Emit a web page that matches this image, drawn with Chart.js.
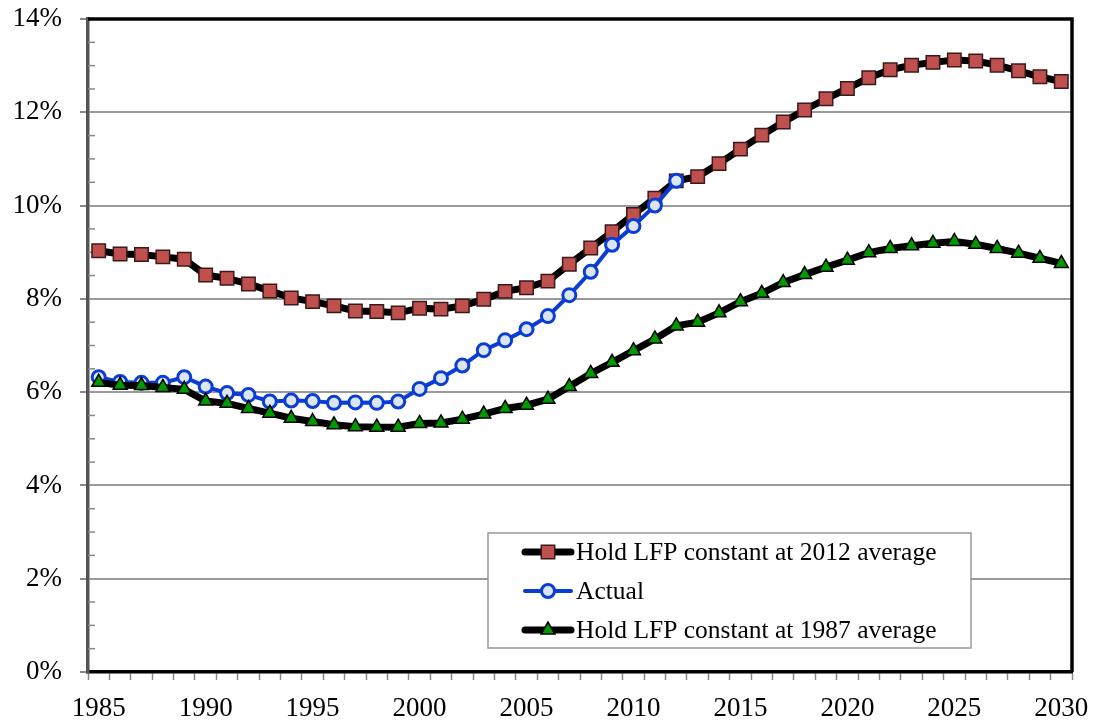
<!DOCTYPE html>
<html lang="en">
  <head>
    <meta charset="UTF-8" />
    <title>LFP scenarios</title>
    <script src="https://cdn.jsdelivr.net/npm/chart.js"></script>
    <style>
      body {
        margin: 0;
        background: #fff;
      }
      #chart-container {
        width: 1097px;
        height: 725px;
      }
    </style>
  </head>
  <body>
    <div id="chart-container">
      <canvas id="my-chart"></canvas>
    </div>

    <script>
      const years = [
        1985, 1986, 1987, 1988, 1989, 1990, 1991, 1992, 1993, 1994, 1995, 1996,
        1997, 1998, 1999, 2000, 2001, 2002, 2003, 2004, 2005, 2006, 2007, 2008,
        2009, 2010, 2011, 2012, 2013, 2014, 2015, 2016, 2017, 2018, 2019, 2020,
        2021, 2022, 2023, 2024, 2025, 2026, 2027, 2028, 2029, 2030,
      ];

      // Hold LFP constant at 2012 average
      const hold2012 = [
        9.03, 8.96, 8.95, 8.9, 8.85, 8.51, 8.44, 8.32, 8.17, 8.02, 7.94, 7.85,
        7.74, 7.73, 7.7, 7.8, 7.78, 7.85, 7.99, 8.16, 8.24, 8.38, 8.74, 9.09,
        9.44, 9.81, 10.16, 10.53, 10.62, 10.9, 11.21, 11.51, 11.79, 12.05,
        12.29, 12.51, 12.74, 12.91, 13.01, 13.07, 13.12, 13.1, 13.01, 12.89,
        12.76, 12.66,
      ];

      // Actual (ends in 2012)
      const actual = [
        6.32, 6.22, 6.2, 6.2, 6.32, 6.12, 5.98, 5.94, 5.8, 5.82, 5.81, 5.77,
        5.78, 5.77, 5.8, 6.07, 6.3, 6.57, 6.9, 7.11, 7.35, 7.63, 8.08, 8.58,
        9.16, 9.56, 10.0, 10.53,
      ];

      // Hold LFP constant at 1987 average
      const hold1987 = [
        6.21, 6.15, 6.14, 6.1, 6.06, 5.81, 5.76, 5.65, 5.55, 5.44, 5.37, 5.3,
        5.26, 5.25, 5.25, 5.33, 5.34, 5.42, 5.53, 5.65, 5.72, 5.85, 6.12, 6.4,
        6.64, 6.89, 7.14, 7.42, 7.5, 7.7, 7.94, 8.12, 8.35, 8.52, 8.68, 8.83,
        8.99, 9.08, 9.14, 9.19, 9.23, 9.17, 9.08, 8.98, 8.87, 8.76,
      ];

      const seriesNames = [
        "Hold LFP constant at 2012 average",
        "Actual",
        "Hold LFP constant at 1987 average",
      ];

      const yMin = 0;
      const yMax = 14;
      const yStep = 2;
      const yMinorStep = 0.5;

      const FONT = '"Liberation Serif", "Times New Roman", serif';

      // plot box: black top/right edges + small inside minor ticks on y
      const frame = {
        id: "frame",
        beforeDatasetsDraw(chart) {
          const { ctx, chartArea } = chart;
          const y = chart.scales.y;
          ctx.save();
          ctx.strokeStyle = "#888";
          ctx.lineWidth = 1.5;
          for (let v = yMin; v <= yMax; v += yMinorStep) {
            if (v % yStep === 0) continue;
            const py = y.getPixelForValue(v);
            ctx.beginPath();
            ctx.moveTo(chartArea.left, py);
            ctx.lineTo(chartArea.left + 7, py);
            ctx.stroke();
          }
          ctx.strokeStyle = "#000";
          ctx.lineWidth = 3.5;
          ctx.beginPath();
          ctx.moveTo(chartArea.left, chartArea.top);
          ctx.lineTo(chartArea.right, chartArea.top);
          ctx.lineTo(chartArea.right, chartArea.bottom);
          ctx.stroke();
          ctx.restore();
        },
      };

      function drawMarker(ctx, style, x, y, r, fill, stroke, bw) {
        ctx.beginPath();
        if (style === "rect") {
          const s = Math.SQRT1_2 * r;
          ctx.rect(x - s, y - s, 2 * s, 2 * s);
        } else if (style === "circle") {
          ctx.arc(x, y, r, 0, Math.PI * 2);
        } else {
          ctx.moveTo(x, y - r);
          ctx.lineTo(x + r * 0.866, y + r * 0.5);
          ctx.lineTo(x - r * 0.866, y + r * 0.5);
          ctx.closePath();
        }
        ctx.fillStyle = fill;
        ctx.fill();
        ctx.lineWidth = bw;
        ctx.strokeStyle = stroke;
        ctx.stroke();
      }

      // legend box inside the plot, bottom right
      const boxLegend = {
        id: "boxLegend",
        afterDraw(chart) {
          const { ctx, chartArea } = chart;
          const left = chartArea.right - 584;
          const right = chartArea.right - 101;
          const top = chartArea.bottom - 139;
          const bottom = chartArea.bottom - 24;
          ctx.save();
          ctx.fillStyle = "#fff";
          ctx.fillRect(left, top, right - left, bottom - top);
          ctx.strokeStyle = "#999";
          ctx.lineWidth = 1.5;
          ctx.strokeRect(left, top, right - left, bottom - top);

          const rows = [top + 19, top + 58, top + 97];
          chart.data.datasets.forEach((ds, i) => {
            const yy = rows[i];
            ctx.strokeStyle = ds.borderColor;
            ctx.lineWidth = ds.borderWidth;
            ctx.lineCap = "round";
            ctx.beginPath();
            ctx.moveTo(left + 37, yy);
            ctx.lineTo(left + 83, yy);
            ctx.stroke();
            drawMarker(
              ctx,
              ds.pointStyle,
              left + 60,
              yy,
              ds.pointRadius,
              ds.pointBackgroundColor,
              ds.pointBorderColor,
              ds.pointBorderWidth
            );
            ctx.fillStyle = "#000";
            ctx.font = "25.5px " + FONT;
            ctx.textBaseline = "middle";
            ctx.textAlign = "left";
            ctx.fillText(ds.label, left + 88, yy + 1);
          });
          ctx.restore();
        },
      };

      const ctx = document.getElementById("my-chart").getContext("2d");
      const myChart = new Chart(ctx, {
        type: "line",
        data: {
          labels: years,
          datasets: [
            {
              label: seriesNames[0],
              data: hold2012,
              borderColor: "#000",
              borderWidth: 7,
              pointStyle: "rect",
              pointRadius: 9.5,
              pointBackgroundColor: "#C0504D",
              pointBorderColor: "#3a1a1a",
              pointBorderWidth: 1.5,
              tension: 0,
              order: 2,
            },
            {
              label: seriesNames[1],
              data: actual,
              borderColor: "#0A3CD6",
              borderWidth: 4,
              pointStyle: "circle",
              pointRadius: 6.5,
              pointBackgroundColor: "#DCE6F2",
              pointBorderColor: "#0A3CD6",
              pointBorderWidth: 3,
              tension: 0,
              order: 1,
            },
            {
              label: seriesNames[2],
              data: hold1987,
              borderColor: "#000",
              borderWidth: 7,
              pointStyle: "triangle",
              pointRadius: 8,
              pointBackgroundColor: "#009A00",
              pointBorderColor: "#000",
              pointBorderWidth: 1.5,
              tension: 0,
              order: 0,
            },
          ],
        },
        options: {
          responsive: true,
          maintainAspectRatio: false,
          animation: false,
          layout: {
            padding: { top: 19, right: 25, left: 0, bottom: 0 },
          },
          plugins: {
            legend: { display: false },
            tooltip: { enabled: false },
          },
          scales: {
            x: {
              type: "category",
              offset: true,
              afterFit: (scale) => {
                scale.height = 53;
                scale.paddingLeft = 0;
                scale.paddingRight = 0;
              },
              grid: {
                offset: true,
                drawOnChartArea: false,
                tickLength: 8,
                tickColor: "#888",
                tickWidth: 1.5,
              },
              border: { color: "#000", width: 3.5 },
              ticks: {
                autoSkip: false,
                maxRotation: 0,
                padding: 13,
                color: "#000",
                font: { family: FONT, size: 27 },
                callback: function (value, index) {
                  return years[index] % 5 === 0 ? String(years[index]) : "";
                },
              },
            },
            y: {
              min: yMin,
              max: yMax,
              afterFit: (scale) => {
                scale.width = 88;
                scale.paddingTop = 0;
                scale.paddingBottom = 0;
              },
              grid: {
                color: "#999",
                lineWidth: 2,
                tickLength: 8,
                tickColor: "#888",
              },
              border: { color: "#555", width: 3.5 },
              ticks: {
                stepSize: yStep,
                padding: 18,
                color: "#000",
                font: { family: FONT, size: 27 },
                callback: function (value) {
                  return value + "%";
                },
              },
            },
          },
        },
        plugins: [frame, boxLegend],
      });
    </script>
  </body>
</html>
